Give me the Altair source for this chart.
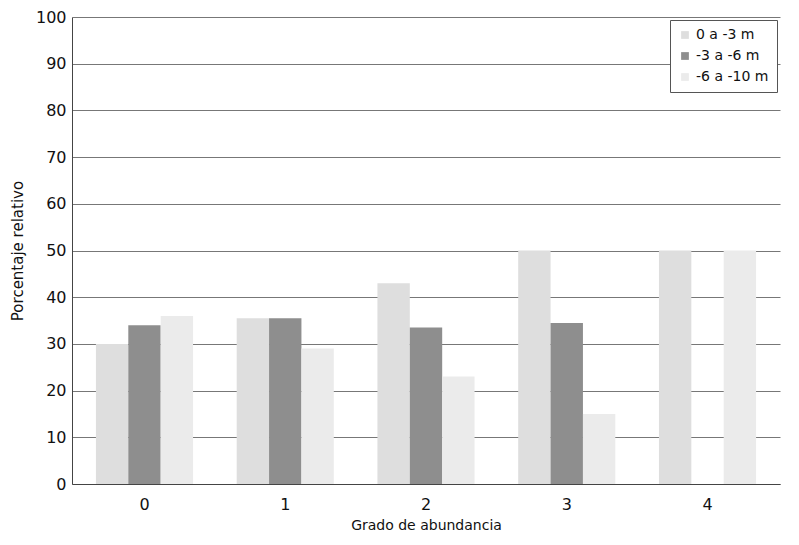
import altair as alt
import pandas as pd

grados = ["0", "1", "2", "3", "4"]
series = ["0 a -3 m", "-3 a -6 m", "-6 a -10 m"]
s1 = [30, 35.5, 43, 50, 50]
s2 = [34, 35.5, 33.5, 34.5, 0]
s3 = [36, 29, 23, 15, 50]
colors = ["#dedede", "#8e8e8e", "#ebebeb"]

rows = []
for name, vals in zip(series, [s1, s2, s3]):
    for g, v in zip(grados, vals):
        rows.append({"grado": g, "serie": name, "valor": v})
df = pd.DataFrame(rows)

chart = alt.Chart(df).mark_bar().encode(
    x=alt.X("grado:N", title="Grado de abundancia",
            scale=alt.Scale(paddingInner=0.31, paddingOuter=0.17),
            axis=alt.Axis(labelAngle=0, ticks=False, labelFontSize=16, labelPadding=12,
                          titleFontSize=14, titleFontWeight="normal", titlePadding=6,
                          domainColor="#444", labelColor="#111", titleColor="#111",
                          labelFont="DejaVu Sans", titleFont="DejaVu Sans")),
    xOffset=alt.XOffset("serie:N", sort=series),
    y=alt.Y("valor:Q", title="Porcentaje relativo",
            scale=alt.Scale(domain=[0, 100]),
            axis=alt.Axis(values=list(range(0, 101, 10)), ticks=False, labelFontSize=16,
                          labelPadding=6, titleFontSize=15, titleFontWeight="normal",
                          titlePadding=10, grid=True, gridColor="#777", gridWidth=1,
                          domainColor="#444", labelColor="#111", titleColor="#111",
                          labelFont="DejaVu Sans", titleFont="DejaVu Sans")),
    color=alt.Color("serie:N", sort=series,
                    scale=alt.Scale(domain=series, range=colors),
                    legend=alt.Legend(title=None, orient="top-right", offset=3,
                                      symbolType="square", symbolSize=60, symbolStrokeWidth=0,
                                      labelFontSize=14, labelFont="DejaVu Sans", labelColor="#111",
                                      strokeColor="#555", fillColor="white", padding=8,
                                      rowPadding=7)),
).properties(
    width=708, height=467,
    autosize=alt.AutoSizeParams(type="none"),
    padding={"left": 64, "top": 9, "right": 11, "bottom": 52},
).configure_view(stroke=None).configure_axis(domainWidth=1)

chart.save("out.html", embed_options={"renderer": "svg", "actions": False})
